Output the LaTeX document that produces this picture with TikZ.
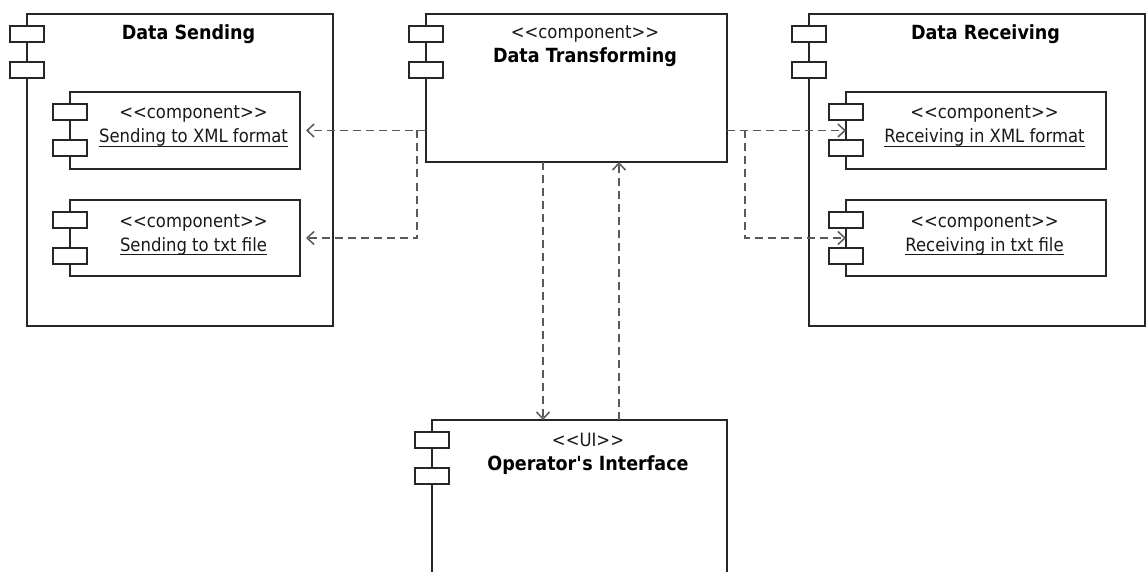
\documentclass[tikz,border=0pt]{standalone}
\usepackage{fontspec}
\setmainfont{DejaVu Sans}[FakeStretch=0.9]
\usetikzlibrary{arrows.meta, positioning, calc}

\newcommand\undl[1]{\setbox0=\hbox{#1}\rlap{\rule[-4pt]{\wd0}{0.9pt}}\box0}
\newcommand\stype[1]{<\kern0pt<#1>\kern0pt>}

\begin{document}
\begin{tikzpicture}[
  x=1pt, y=1pt,
  comp/.style   = {rectangle, draw=black!85, line width=1.2pt, fill=white,
                   inner sep=0pt, outer sep=0pt, anchor=north west},
  tab/.style    = {draw=black!85, line width=1.2pt, fill=white},
  stereo/.style = {anchor=base, inner sep=0pt, text=black!90,
                   font=\fontsize{18.3}{22}\selectfont},
  title/.style  = {anchor=base, inner sep=0pt, text=black,
                   font=\fontsize{19.5}{23}\selectfont\bfseries},
  dep/.style    = {-{Straight Barb[length=7pt, width=13pt]}, draw=black!65,
                   line width=1.5pt, dash pattern=on 8pt off 5pt}
]
\useasboundingbox (0,0) rectangle (1147,-572);

% outer components
\node[comp, minimum width=306pt, minimum height=312pt] (ds) at (27,-14) {};
\node[comp, minimum width=301pt, minimum height=148pt] (dt) [below right=0pt and 93pt of ds.north east] {};
\node[comp, minimum width=336pt, minimum height=312pt] (dr) [below right=0pt and 82pt of dt.north east] {};
\node[comp, minimum width=295pt, minimum height=170pt] (oi) [below left=258pt and 0pt of dt.south east] {};

% inner components
\node[comp, minimum width=230pt, minimum height=77pt] (sx) [below right=78pt and 43pt of ds.north west] {};
\node[comp, minimum width=230pt, minimum height=76pt] (st) [below=31pt of sx] {};
\node[comp, minimum width=260pt, minimum height=77pt] (rx) [below right=78pt and 37pt of dr.north west] {};
\node[comp, minimum width=260pt, minimum height=76pt] (rt) [below=31pt of rx] {};

% component tabs
\foreach \b in {ds,dt,dr,oi,sx,st,rx,rt}
  \foreach \ty in {12,48}
    \draw[tab] ($(\b.north west)+(-17,-\ty)$) rectangle ++(34,-16);

% texts
\node[title]  (dsT) at ($(ds.north)+(8.5,-26)$) {Data Sending};
\node[title]  (drT) at ($(dr.north)+(8.5,-26)$) {Data Receiving};
\node[stereo] (dtS) at ($(dt.north)+(8.5,-25)$) {\stype{component}};
\node[title]  (dtN) at ($(dt.north)+(8.5,-49)$) {Data Transforming};
\node[stereo] (oiS) at ($(oi.north)+(8.5,-26)$) {\stype{UI}};
\node[title]  (oiN) at ($(oi.north)+(8.5,-50)$) {Operator\textquotesingle s Interface};

\node[stereo] (sxS) at ($(sx.north)+(8.5,-27)$) {\stype{component}};
\node[stereo] (sxN) at ($(sx.north)+(8.5,-51)$) {\undl{Sending to XML format}};
\node[stereo] (stS) at ($(st.north)+(8.5,-27)$) {\stype{component}};
\node[stereo] (stN) at ($(st.north)+(8.5,-51)$) {\undl{Sending to txt file}};
\node[stereo] (rxS) at ($(rx.north)+(8.5,-27)$) {\stype{component}};
\node[stereo] (rxN) at ($(rx.north)+(8.5,-51)$) {\undl{Receiving in XML format}};
\node[stereo] (rtS) at ($(rt.north)+(8.5,-27)$) {\stype{component}};
\node[stereo] (rtN) at ($(rt.north)+(8.5,-51)$) {\undl{Receiving in txt file}};

% dependencies
\coordinate (lj)   at ($(sx.east -| dt.west)+(-9,0)$);
\coordinate (rj)   at ($(rx.west -| dt.east)+(18,0)$);
\coordinate (down) at ($(dt.south)+(-33.5,0)$);
\coordinate (up)   at ($(dt.south)+(42.5,0)$);

\draw[dep, shorten >=6pt] (sx.east -| dt.west) -- (sx.east);
\draw[dep, shorten >=6pt] (lj) |- (st.east);
\draw[dep] (rx.west -| dt.east) -- (rx.west);
\draw[dep] (rj) |- (rt.west);
\draw[dep] (down) -- (down |- oi.north);
\draw[dep] (up |- oi.north) -- (up);

\end{tikzpicture}
\end{document}
